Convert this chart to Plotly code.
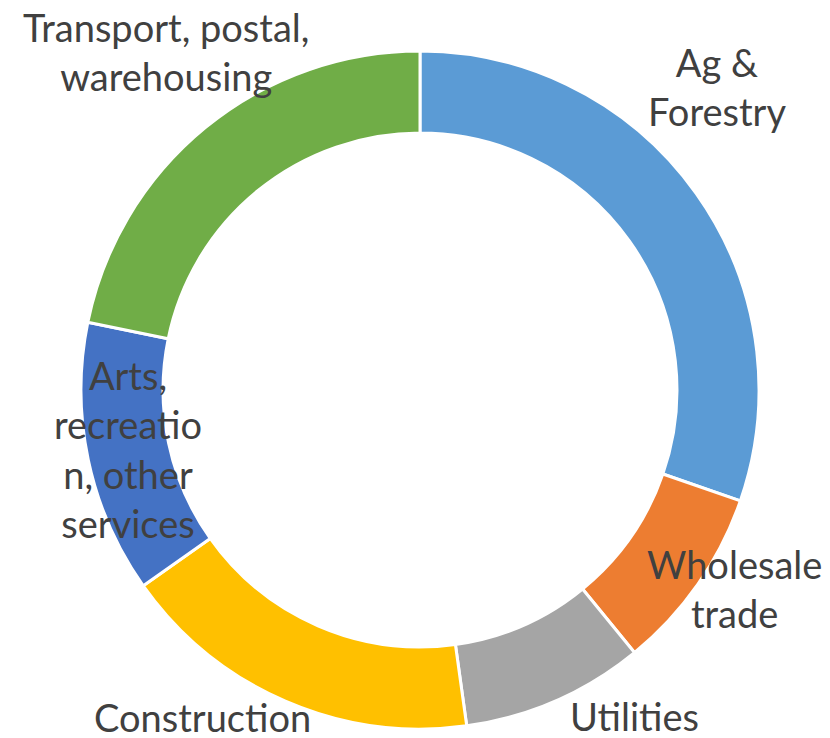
import plotly.graph_objects as go

categories = ["Ag &<br>Forestry", "Wholesale<br>trade", "Utilities", "Construction",
              "Arts,<br>recreatio<br>n, other<br>services", "Transport, postal,<br>warehousing"]
values = [30.3, 8.8, 8.7, 17.4, 13.0, 21.8]
colors = ["#5B9BD5", "#ED7D31", "#A5A5A5", "#FFC000", "#4472C4", "#70AD47"]

# label centres in page pixels (x, y from top)
label_px = [(717, 86), (734, 588), (634, 716), (202, 717), (128, 449), (166, 52)]

W, H = 830, 738
OFF = 8  # browser body margin offset
cx, cy, R = 420 - OFF, 390 - OFF, 339

fig = go.Figure(go.Pie(
    labels=[c.replace("<br>", " ") for c in categories],
    values=values,
    marker=dict(colors=colors, line=dict(color="white", width=3)),
    hole=0.758,
    sort=False,
    direction="clockwise",
    rotation=0,
    textinfo="none",
    showlegend=False,
    domain=dict(x=[(cx - R) / W, (cx + R) / W], y=[(H - (cy + R)) / H, (H - (cy - R)) / H]),
))

for text, (px, py) in zip(categories, label_px):
    fig.add_annotation(
        x=(px - OFF) / W, y=1 - (py - OFF) / H, xref="paper", yref="paper",
        text=text, showarrow=False, xanchor="center", yanchor="middle",
        align="center",
        font=dict(family="Lato, 'Open Sans', sans-serif", size=38, color="#404040"),
    )

fig.update_layout(
    width=W, height=H,
    margin=dict(l=0, r=0, t=0, b=0),
    paper_bgcolor="white", plot_bgcolor="white",
)

fig.write_html("out.html")
